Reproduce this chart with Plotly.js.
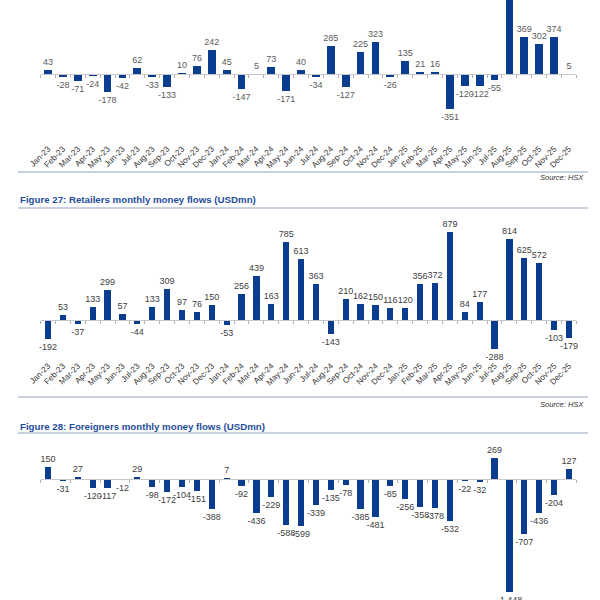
<!DOCTYPE html>
<html>
<head>
<meta charset="utf-8">
<script src="https://cdn.plot.ly/plotly-3.0.1.min.js"></script>
<style>html,body{margin:0;padding:0;background:#fff;}#chart{width:600px;height:600px;}</style>
</head>
<body>
<div id="chart"></div>
<script>
const months = ["Jan-23","Feb-23","Mar-23","Apr-23","May-23","Jun-23","Jul-23","Aug-23","Sep-23","Oct-23","Nov-23","Dec-23",
  "Jan-24","Feb-24","Mar-24","Apr-24","May-24","Jun-24","Jul-24","Aug-24","Sep-24","Oct-24","Nov-24","Dec-24",
  "Jan-25","Feb-25","Mar-25","Apr-25","May-25","Jun-25","Jul-25","Aug-25","Sep-25","Oct-25","Nov-25","Dec-25"];

// Top chart (title cropped off in the reference); Aug-25 bar runs off the top, value estimated
const topFlows = [43,-28,-71,-24,-178,-42,62,-33,-133,10,76,242,
  45,-147,5,73,-171,40,-34,285,-127,225,323,-26,
  135,21,16,-351,-120,-122,-55,850,369,302,374,5];

const retailFlows = [-192,53,-37,133,299,57,-44,133,309,97,76,150,
  -53,256,439,163,785,613,363,-143,210,162,150,116,
  120,356,372,879,84,177,-288,814,625,572,-103,-179];

const foreignFlows = [150,-31,27,-120,-117,-12,29,-98,-172,-104,-151,-388,
  7,-92,-436,-229,-588,-599,-339,-135,-78,-385,-481,-85,
  -256,-358,-378,-532,-22,-32,269,-1448,-707,-436,-204,127];

const titles = ["Figure 27: Retailers monthly money flows (USDmn)", "Figure 28: Foreigners monthly money flows (USDmn)"];
const sourceText = "Source: HSX";

const BAR = "#0a3d8f";
const P = py => 1 - py/600;
const xdom = [40.6/600, 576.4/600];

const panels = [
  {top:0, bot:135, range:[-610,740], width:0.52, txt:"#5a5a5a", data:topFlows, standoff:66, labels:true, clip:true},
  {top:215, bot:362, range:[-420,1050], width:0.42, txt:"#404040", data:retailFlows, standoff:37, labels:true, clip:false},
  {top:440, bot:600, range:[-1551,500], width:0.42, txt:"#404040", data:foreignFlows, standoff:30, labels:false, clip:false}
];

const fmt = v => v.toLocaleString('en-US');
const traces = [];
const layout = {
  width:600, height:600, margin:{l:0,r:0,t:0,b:0},
  paper_bgcolor:"#fff", plot_bgcolor:"rgba(0,0,0,0)",
  showlegend:false, bargap:0,
  font:{family:"Liberation Sans, Arial, sans-serif", color:"#404040"},
  shapes:[], annotations:[]
};

panels.forEach((p,i)=>{
  const n = i+1;
  const xa = n===1 ? "x" : "x"+n, ya = n===1 ? "y" : "y"+n;
  traces.push({
    type:"bar", x:months, y:p.data, xaxis:xa, yaxis:ya,
    marker:{color:BAR}, width:p.width,
    text:p.data.map(fmt), textposition:"outside", constraintext:"none",
    textfont:{size:9, color:p.txt, family:"Liberation Sans, Arial, sans-serif"},
    cliponaxis:p.clip, hoverinfo:"skip"
  });
  const d0 = P(p.bot), d1 = P(p.top);
  const zeroPos = d0 + (0 - p.range[0])/(p.range[1]-p.range[0])*(d1-d0);
  layout[n===1?"xaxis":"xaxis"+n] = {
    domain:xdom, anchor:"free", position:zeroPos,
    type:"category", range:[-0.5,35.5],
    showline:true, linecolor:"#c8c8c8", linewidth:1,
    ticks:"outside", tickson:"boundaries", ticklen:3, tickcolor:"#b0b0b0",
    showgrid:false, zeroline:false,
    showticklabels:p.labels, tickangle:-45, ticklabelstandoff:p.standoff,
    tickfont:{size:8.2, color:"#333", family:"Liberation Sans, Arial, sans-serif"},
    fixedrange:true
  };
  layout[n===1?"yaxis":"yaxis"+n] = {
    domain:[d0,d1], range:p.range, anchor:xa,
    visible:false, showgrid:false, zeroline:false, fixedrange:true
  };
});

const lineColor = "#8fa3c2";
[172, 397, 208, 433].forEach(py=>layout.shapes.push({type:"line", xref:"paper", yref:"paper",
  x0:18/600, x1:588/600, y0:P(py), y1:P(py), line:{color:lineColor, width:1.2}}));

[200, 426].forEach((py,i)=>layout.annotations.push({xref:"paper", yref:"paper", x:18/600, y:P(py),
  xanchor:"left", yanchor:"middle", showarrow:false, text:"<b>"+titles[i]+"</b>",
  font:{size:9.7, color:"#1f4e9a", family:"Liberation Sans, Arial, sans-serif"}}));

[178, 404].forEach(py=>layout.annotations.push({xref:"paper", yref:"paper", x:586/600, y:P(py),
  xanchor:"right", yanchor:"middle", showarrow:false, text:"<i>"+sourceText+"</i>",
  font:{size:7.5, color:"#333", family:"Liberation Sans, Arial, sans-serif"}}));

Plotly.newPlot("chart", traces, layout, {staticPlot:true, displayModeBar:false});
</script>
</body>
</html>
